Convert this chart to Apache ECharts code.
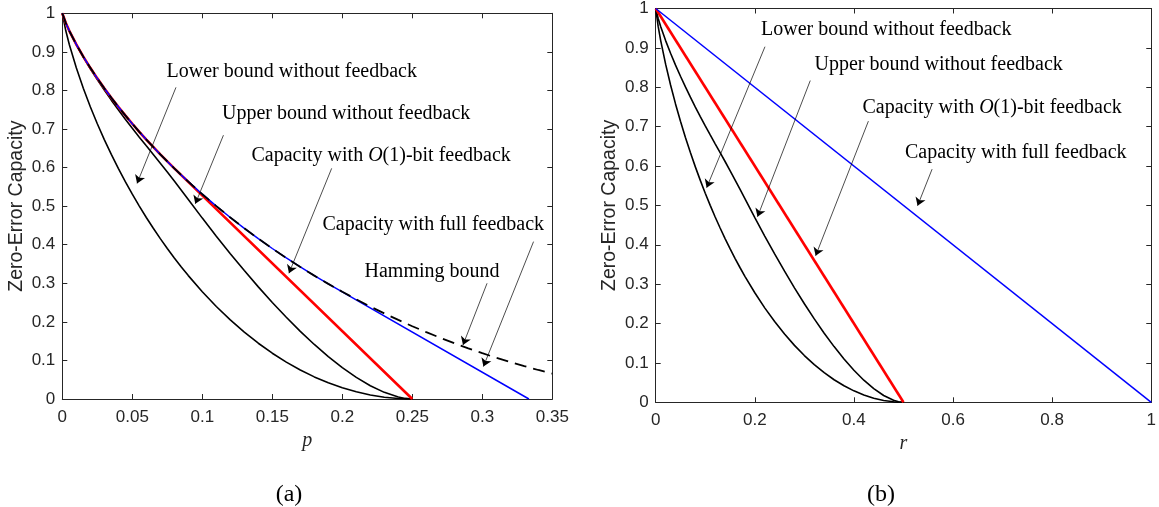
<!DOCTYPE html>
<html>
<head>
<meta charset="utf-8">
<script src="https://cdn.jsdelivr.net/npm/echarts@6/dist/echarts.min.js"></script>
<style>html,body{margin:0;padding:0;background:#fff}#c{width:1159px;height:507px}</style>
</head>
<body>
<div id="c"></div>
<script>
// ---------- data: panel (a), x = p ----------
const pNoFb = [0,0.0025,0.005,0.01,0.015,0.02,0.025,0.03,0.035,0.04,0.045,0.05,0.055,0.06,0.065,0.07,0.075,0.08,0.085,0.09,0.10,0.11,0.12,0.13,0.14,0.15,0.16,0.17,0.18,0.19,0.20,0.21,0.22,0.23,0.24,0.245,0.25];
// ---------- data: panel (b), x = r ----------
const rNoFb = [0,0.005,0.01,0.02,0.03,0.04,0.05,0.06,0.07,0.08,0.09,0.10,0.11,0.12,0.13,0.14,0.15,0.16,0.17,0.18,0.20,0.22,0.24,0.26,0.28,0.30,0.32,0.34,0.36,0.38,0.40,0.42,0.44,0.46,0.48,0.49,0.50];
// lower / upper bounds without feedback (same values in both panels)
const lowerNoFb = [1,0.9546,0.9192,0.8586,0.8056,0.7577,0.7136,0.6726,0.6341,0.5978,0.5635,0.5310,0.5001,0.4706,0.4426,0.4158,0.3902,0.3657,0.3423,0.3199,0.2781,0.2398,0.2050,0.1733,0.1446,0.1187,0.0956,0.0752,0.0573,0.0420,0.0291,0.0186,0.0104,0.0046,0.0012,0.0003,0];
const upperNoFb = [1,0.9747,0.9544,0.9185,0.8862,0.8562,0.8279,0.8008,0.7748,0.7498,0.7255,0.7019,0.6789,0.6563,0.6340,0.6115,0.5885,0.5650,0.5412,0.5172,0.4690,0.4221,0.3767,0.3329,0.2907,0.2502,0.2118,0.1754,0.1414,0.1100,0.0815,0.0561,0.0345,0.0172,0.0051,0.0015,0];
// Hamming bound (panel a)
const pHam = [0,0.0025,0.005,0.01,0.015,0.02,0.025,0.03,0.035,0.04,0.045,0.05,0.055,0.06,0.07,0.08,0.09,0.10,0.11,0.12,0.13,0.14,0.15,0.16,0.17,0.18,0.19,0.20,0.21,0.22,0.23,0.24,0.25,0.26,0.27,0.28,0.29,0.30,0.31,0.32,0.33,0.34,0.35];
const hamV = [1,0.9748,0.9546,0.9192,0.8876,0.8586,0.8313,0.8056,0.7811,0.7577,0.7352,0.7136,0.6927,0.6726,0.6341,0.5978,0.5635,0.5310,0.5001,0.4706,0.4426,0.4158,0.3902,0.3657,0.3423,0.3199,0.2985,0.2781,0.2585,0.2398,0.2220,0.2050,0.1887,0.1733,0.1585,0.1446,0.1313,0.1187,0.1068,0.0956,0.0851,0.0752,0.0659];
// capacity with O(1)-bit feedback (panel a)
const redP = [0,0.0025,0.005,0.01,0.015,0.02,0.025,0.03,0.035,0.04,0.045,0.05,0.055,0.06,0.07,0.08,0.25];
const redV = [1,0.9748,0.9546,0.9192,0.8876,0.8586,0.8313,0.8056,0.7811,0.7577,0.7352,0.7136,0.6927,0.6726,0.6341,0.5978,0];
// capacity with full feedback (panel a)
const blueP = [0,0.0025,0.005,0.01,0.015,0.02,0.025,0.03,0.035,0.04,0.045,0.05,0.055,0.06,0.07,0.08,0.09,0.10,0.11,0.12,0.13,0.14,0.15,0.16,0.17,0.18,0.19,0.3333];
const blueV = [1,0.9748,0.9546,0.9192,0.8876,0.8586,0.8313,0.8056,0.7811,0.7577,0.7352,0.7136,0.6927,0.6726,0.6341,0.5978,0.5635,0.5310,0.5001,0.4706,0.4426,0.4158,0.3902,0.3657,0.3423,0.3199,0.2985,0];
// panel (b) feedback capacities
const redR = [0,0.5];
const redRV = [1,0];
const blueR = [0,1];
const blueRV = [1,0];
// tick labels
const xTicksA = ['0','0.05','0.1','0.15','0.2','0.25','0.3','0.35'];
const xTicksB = ['0','0.2','0.4','0.6','0.8','1'];
const yTicks = ['0','0.1','0.2','0.3','0.4','0.5','0.6','0.7','0.8','0.9','1'];

const zip = (xs, ys) => xs.map((x, i) => [x, ys[i]]);

const AX = '#262626';
const tickFont = {fontFamily: 'Liberation Sans', fontSize: 17, color: AX};

function mkX(grid, max, interval, labels, pos, name) {
  return {
    type: 'value', gridIndex: grid, min: 0, max: max, interval: interval, position: pos,
    axisLine: {show: true, onZero: false, lineStyle: {color: AX, width: 1}},
    axisTick: {show: true, inside: true, length: 5, lineStyle: {color: AX, width: 1}},
    axisLabel: pos === 'bottom' ? Object.assign({show: true, margin: 9.5,
      formatter: v => labels[Math.round(v / interval)]}, tickFont) : {show: false},
    splitLine: {show: false},
    name: name || '', nameLocation: 'middle', nameGap: 29,
    nameTextStyle: {fontFamily: 'Liberation Serif', fontStyle: 'italic', fontSize: 20, color: AX}
  };
}
function mkY(grid, pos, name) {
  return {
    type: 'value', gridIndex: grid, min: 0, max: 1, interval: 0.1, position: pos,
    axisLine: {show: true, onZero: false, lineStyle: {color: AX, width: 1}},
    axisTick: {show: true, inside: true, length: 5, lineStyle: {color: AX, width: 1}},
    axisLabel: pos === 'left' ? Object.assign({show: true, margin: 7,
      formatter: v => yTicks[Math.round(v / 0.1)]}, tickFont) : {show: false},
    splitLine: {show: false},
    name: name || '', nameLocation: 'middle', nameGap: 36, nameRotate: 90,
    nameTextStyle: {fontFamily: 'Liberation Sans', fontSize: 19.5, color: AX}
  };
}
function line(xi, yi, data, color, width, type, extra) {
  return Object.assign({
    type: 'line', xAxisIndex: xi, yAxisIndex: yi, data: data, showSymbol: false, symbol: 'none',
    lineStyle: {color: color, width: width, type: type || 'solid'}, silent: true, z: 2
  }, extra || {});
}
function arrows(list) {
  return {
    silent: true, symbol: ['none', 'arrow'], symbolSize: 8, animation: false,
    label: {show: false},
    lineStyle: {color: '#000', width: 0.7, type: 'solid'},
    itemStyle: {color: '#000'},
    emphasis: {disabled: true},
    data: list.map(a => [{coord: [a[0], a[1]]}, {coord: [a[2], a[3]]}])
  };
}
// arrows in data coordinates: [x0, y0, x1(tip), y1(tip)]
const arrowsA = [
  [0.0812, 0.808, 0.0534, 0.559],
  [0.1151, 0.684, 0.0950, 0.506],
  [0.1924, 0.598, 0.1619, 0.326],
  [0.3366, 0.408, 0.3008, 0.084],
  [0.3034, 0.300, 0.2862, 0.140]
];
const arrowsB = [
  [0.2205, 0.903, 0.1028, 0.545],
  [0.3119, 0.817, 0.2054, 0.471],
  [0.4292, 0.714, 0.3227, 0.372],
  [0.5577, 0.592, 0.5284, 0.499]
];

const serif = 'Liberation Serif';
function txt(x, y, s, size) {
  return {
    type: 'text', x: x, y: y, silent: true, z: 100,
    style: {
      text: s, fill: '#000', font: (size || 20) + 'px "' + serif + '"',
      align: 'left', verticalAlign: 'middle',
      rich: {i: {fontFamily: serif, fontStyle: 'italic', fontSize: size || 20, fill: '#000'}}
    }
  };
}
function ctxt(x, y, s, size) {
  const t = txt(x, y, s, size); t.style.align = 'center'; return t;
}

const chart = echarts.init(document.getElementById('c'), null, {renderer: 'canvas'});
chart.setOption({
  animation: false,
  backgroundColor: '#fff',
  grid: [
    {left: 62.3, top: 13.3, width: 490, height: 385.7, containLabel: false},
    {left: 655.7, top: 6.7, width: 502.8, height: 395.6, containLabel: false}
  ],
  xAxis: [
    mkX(0, 0.35, 0.05, xTicksA, 'bottom', 'p'),
    mkX(0, 0.35, 0.05, xTicksA, 'top'),
    mkX(1, 1, 0.2, xTicksB, 'bottom', 'r'),
    mkX(1, 1, 0.2, xTicksB, 'top')
  ],
  yAxis: [
    mkY(0, 'left', 'Zero-Error Capacity'),
    mkY(0, 'right'),
    mkY(1, 'left', 'Zero-Error Capacity'),
    mkY(1, 'right')
  ],
  series: [
    // panel (a)
    line(0, 0, zip(pNoFb, lowerNoFb), '#000', 1.6),
    line(0, 0, zip(pNoFb, upperNoFb), '#000', 1.6),
    line(0, 0, zip(redP, redV), '#ff0000', 2.6),
    line(0, 0, zip(blueP, blueV), '#0000ff', 1.5),
    line(0, 0, zip(pHam, hamV), '#000', 1.8, [12, 7], {markLine: arrows(arrowsA)}),
    // panel (b)
    line(2, 2, zip(rNoFb, lowerNoFb), '#000', 1.6),
    line(2, 2, zip(rNoFb, upperNoFb), '#000', 1.6),
    line(2, 2, zip(redR, redRV), '#ff0000', 2.6),
    line(2, 2, zip(blueR, blueRV), '#0000ff', 1.5, 'solid', {markLine: arrows(arrowsB)})
  ],
  graphic: [
    txt(166.5, 71.6, 'Lower bound without feedback'),
    txt(222, 113.3, 'Upper bound without feedback'),
    txt(251.5, 155.5, 'Capacity with {i|O}(1)-bit feedback'),
    txt(322.5, 225, 'Capacity with full feedback'),
    txt(364.5, 271.6, 'Hamming bound'),
    txt(761, 29.3, 'Lower bound without feedback'),
    txt(814.5, 64.3, 'Upper bound without feedback'),
    txt(862.5, 107.3, 'Capacity with {i|O}(1)-bit feedback'),
    txt(905, 152.7, 'Capacity with full feedback'),
    ctxt(289, 495, '(a)', 24),
    ctxt(881, 495, '(b)', 24)
  ]
});
</script>
</body>
</html>
